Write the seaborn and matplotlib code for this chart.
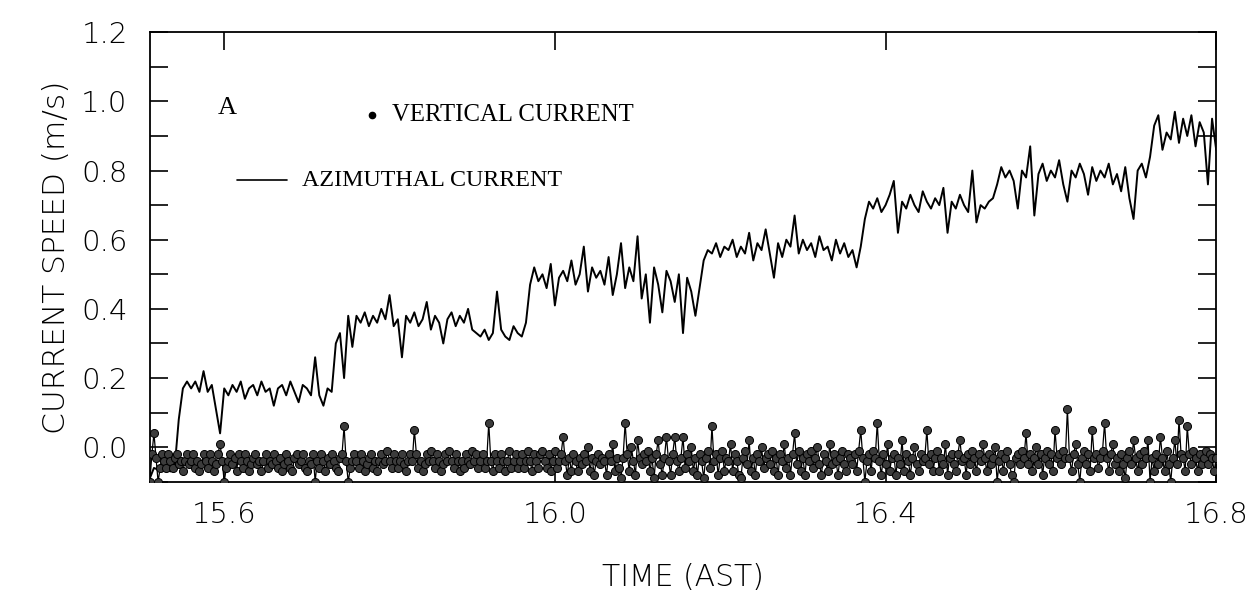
import numpy as np
import pandas as pd
import matplotlib
matplotlib.use("Agg")
import matplotlib.pyplot as plt
from matplotlib.ticker import MultipleLocator
import seaborn as sns

# Azimuthal current: one sample every 0.005 h from 15.51 h AST
az_start = 15.51
az_step = 0.005
azimuthal = [
    -0.09, -0.06, -0.065, -0.07, -0.065, -0.07, -0.06, 0.08, 0.17, 0.19,
    0.17, 0.19, 0.16, 0.22, 0.16, 0.18, 0.11, 0.04, 0.17, 0.15,
    0.18, 0.16, 0.19, 0.14, 0.17, 0.18, 0.15, 0.19, 0.16, 0.17,
    0.12, 0.17, 0.18, 0.15, 0.19, 0.16, 0.13, 0.18, 0.17, 0.15,
    0.26, 0.15, 0.12, 0.17, 0.16, 0.30, 0.33, 0.20, 0.38, 0.29,
    0.38, 0.36, 0.39, 0.35, 0.38, 0.36, 0.40, 0.37, 0.44, 0.35,
    0.37, 0.26, 0.38, 0.36, 0.39, 0.35, 0.37, 0.42, 0.34, 0.38,
    0.36, 0.30, 0.37, 0.39, 0.35, 0.38, 0.36, 0.40, 0.34, 0.33,
    0.32, 0.34, 0.31, 0.33, 0.45, 0.34, 0.32, 0.31, 0.35, 0.33,
    0.32, 0.36, 0.47, 0.52, 0.48, 0.50, 0.46, 0.53, 0.41, 0.49,
    0.51, 0.48, 0.54, 0.47, 0.50, 0.58, 0.45, 0.52, 0.49, 0.51,
    0.47, 0.55, 0.44, 0.50, 0.59, 0.46, 0.52, 0.48, 0.61, 0.43,
    0.50, 0.36, 0.52, 0.47, 0.39, 0.51, 0.48, 0.42, 0.50, 0.33,
    0.49, 0.45, 0.38, 0.46, 0.54, 0.57, 0.56, 0.59, 0.55, 0.58,
    0.57, 0.60, 0.55, 0.58, 0.56, 0.62, 0.54, 0.59, 0.57, 0.63,
    0.56, 0.49, 0.59, 0.55, 0.60, 0.58, 0.67, 0.56, 0.60, 0.57,
    0.59, 0.55, 0.61, 0.57, 0.58, 0.54, 0.60, 0.56, 0.59, 0.55,
    0.57, 0.52, 0.58, 0.66, 0.71, 0.69, 0.72, 0.68, 0.70, 0.73,
    0.77, 0.62, 0.71, 0.69, 0.73, 0.70, 0.68, 0.74, 0.71, 0.69,
    0.72, 0.70, 0.75, 0.62, 0.71, 0.69, 0.73, 0.70, 0.68, 0.80,
    0.65, 0.70, 0.69, 0.71, 0.72, 0.76, 0.81, 0.78, 0.80, 0.77,
    0.69, 0.80, 0.78, 0.87, 0.67, 0.79, 0.82, 0.77, 0.80, 0.78,
    0.83, 0.76, 0.71, 0.80, 0.78, 0.82, 0.79, 0.73, 0.81, 0.77,
    0.80, 0.78, 0.82, 0.76, 0.79, 0.74, 0.81, 0.72, 0.66, 0.80,
    0.82, 0.78, 0.84, 0.93, 0.96, 0.86, 0.91, 0.89, 0.97, 0.88,
    0.95, 0.90, 0.96, 0.87, 0.94, 0.91, 0.76, 0.95, 0.86,
]

# Vertical current: one sample every 0.0025 h from 15.51 h AST
vc_start = 15.51
vc_step = 0.0025
vertical = [
    -0.10, -0.02, 0.04, -0.03, -0.10, -0.06, -0.02, -0.04, -0.06, -0.02,
    -0.04, -0.06, -0.03, -0.02, -0.05, -0.04, -0.07, -0.04, -0.02, -0.05,
    -0.04, -0.02, -0.06, -0.04, -0.07, -0.05, -0.02, -0.04, -0.06, -0.02,
    -0.04, -0.07, -0.05, -0.02, 0.01, -0.04, -0.10, -0.06, -0.04, -0.02,
    -0.05, -0.03, -0.07, -0.02, -0.04, -0.06, -0.02, -0.04, -0.07, -0.05,
    -0.03, -0.02, -0.05, -0.04, -0.07, -0.04, -0.02, -0.06, -0.04, -0.05,
    -0.02, -0.04, -0.06, -0.03, -0.07, -0.05, -0.02, -0.04, -0.06, -0.07,
    -0.03, -0.02, -0.05, -0.04, -0.02, -0.06, -0.07, -0.04, -0.05, -0.02,
    -0.10, -0.04, -0.06, -0.02, -0.04, -0.07, -0.03, -0.05, -0.02, -0.04,
    -0.06, -0.07, -0.03, -0.02, 0.06, -0.04, -0.10, -0.06, -0.04, -0.02,
    -0.04, -0.06, -0.02, -0.04, -0.07, -0.05, -0.03, -0.02, -0.06, -0.04,
    -0.07, -0.04, -0.02, -0.05, -0.04, -0.01, -0.04, -0.06, -0.02, -0.04,
    -0.06, -0.04, -0.02, -0.05, -0.07, -0.04, -0.02, -0.04, 0.05, -0.02,
    -0.06, -0.04, -0.07, -0.05, -0.02, -0.04, -0.01, -0.04, -0.06, -0.02,
    -0.04, -0.07, -0.05, -0.02, -0.04, -0.01, -0.04, -0.06, -0.02, -0.04,
    -0.07, -0.04, -0.06, -0.02, -0.04, -0.05, -0.01, -0.04, -0.02, -0.06,
    -0.04, -0.02, -0.06, -0.04, 0.07, -0.04, -0.07, -0.02, -0.04, -0.06,
    -0.02, -0.04, -0.07, -0.04, -0.01, -0.06, -0.04, -0.02, -0.06, -0.04,
    -0.02, -0.06, -0.04, -0.01, -0.04, -0.07, -0.02, -0.04, -0.06, -0.02,
    -0.01, -0.04, -0.06, -0.02, -0.07, -0.04, -0.01, -0.06, -0.04, -0.02,
    0.03, -0.04, -0.08, -0.03, -0.07, -0.02, -0.04, -0.07, -0.03, -0.05,
    -0.02, -0.04, 0.00, -0.07, -0.03, -0.08, -0.04, -0.02, -0.05, -0.03,
    -0.04, -0.08, -0.02, -0.04, 0.01, -0.07, -0.03, -0.06, -0.09, -0.03,
    0.07, -0.02, -0.07, 0.00, -0.04, -0.08, 0.02, -0.03, -0.05, -0.02,
    -0.04, -0.01, -0.07, -0.03, -0.09, -0.02, 0.02, -0.05, -0.08, -0.03,
    0.03, -0.04, -0.08, -0.02, 0.03, -0.04, -0.07, -0.03, 0.03, -0.06,
    -0.02, -0.04, 0.00, -0.07, -0.03, -0.08, -0.02, -0.04, -0.09, -0.03,
    -0.01, -0.06, 0.06, -0.04, -0.02, -0.08, -0.03, -0.01, -0.07, -0.03,
    -0.04, 0.01, -0.07, -0.02, -0.04, -0.08, -0.09, -0.03, -0.01, -0.05,
    0.02, -0.07, -0.03, -0.08, -0.02, -0.04, 0.00, -0.06, -0.03, -0.02,
    -0.05, -0.01, -0.07, -0.03, -0.08, -0.02, -0.04, 0.01, -0.06, -0.03,
    -0.08, -0.02, 0.04, -0.05, -0.01, -0.07, -0.03, -0.08, -0.02, -0.04,
    -0.01, -0.06, -0.03, 0.00, -0.05, -0.08, -0.02, -0.04, -0.07, 0.01,
    -0.05, -0.02, -0.04, -0.08, -0.03, -0.01, -0.05, -0.07, -0.02, -0.03,
    -0.05, -0.02, -0.07, -0.01, 0.05, -0.03, -0.10, -0.04, -0.02, -0.07,
    -0.01, -0.03, 0.07, -0.04, -0.08, -0.02, -0.05, 0.01, -0.07, -0.03,
    -0.02, -0.08, -0.03, -0.05, 0.02, -0.07, -0.02, -0.04, -0.08, -0.03,
    0.00, -0.05, -0.07, -0.02, -0.04, -0.03, 0.05, -0.05, -0.02, -0.07,
    -0.03, -0.01, -0.07, -0.03, -0.05, 0.01, -0.08, -0.03, -0.02, -0.05,
    -0.07, -0.02, 0.02, -0.04, -0.03, -0.08, -0.02, -0.05, -0.01, -0.03,
    -0.07, -0.02, -0.04, 0.01, -0.03, -0.07, -0.02, -0.05, -0.03, 0.00,
    -0.10, -0.04, -0.02, -0.07, -0.03, -0.01, -0.05, -0.08, -0.10, -0.03,
    -0.02, -0.05, -0.01, -0.03, 0.04, -0.05, -0.02, -0.07, -0.03, 0.00,
    -0.05, -0.02, -0.08, -0.03, -0.01, -0.05, -0.02, -0.07, 0.05, -0.03,
    -0.02, -0.05, -0.01, -0.03, 0.11, -0.03, -0.07, -0.02, 0.01, -0.05,
    -0.10, -0.03, -0.01, -0.05, -0.02, -0.07, 0.05, -0.03, -0.02, -0.06,
    -0.03, -0.01, 0.07, -0.03, -0.07, -0.02, 0.01, -0.05, -0.03, -0.07,
    -0.02, -0.05, -0.09, -0.03, -0.01, -0.05, 0.02, -0.03, -0.07, -0.02,
    -0.05, -0.01, -0.03, 0.02, -0.10, -0.03, -0.07, -0.02, -0.05, 0.03,
    -0.03, -0.07, -0.01, -0.05, -0.10, -0.03, 0.02, -0.05, 0.08, -0.02,
    -0.03, -0.07, 0.06, -0.02, -0.05, -0.01, -0.03, -0.07, -0.02, -0.05,
    -0.03, -0.01, -0.05, -0.02, -0.03, -0.07, -0.03,
]

x_ticks = [15.6, 16.0, 16.4, 16.8]
x_tick_labels = ["15.6", "16.0", "16.4", "16.8"]
y_ticks = [0.0, 0.2, 0.4, 0.6, 0.8, 1.0, 1.2]
y_tick_labels = ["0.0", "0.2", "0.4", "0.6", "0.8", "1.0", "1.2"]

az_df = pd.DataFrame({
    "time": az_start + az_step * np.arange(len(azimuthal)),
    "speed": azimuthal,
})
vc_df = pd.DataFrame({
    "time": vc_start + vc_step * np.arange(len(vertical)),
    "speed": vertical,
})

sns.set_theme(style="ticks")
plt.rcParams["font.family"] = ["DejaVu Sans"]
plt.rcParams["text.color"] = "black"
plt.rcParams["axes.labelcolor"] = "black"
plt.rcParams["xtick.color"] = "black"
plt.rcParams["ytick.color"] = "black"

fig = plt.figure(figsize=(12.59, 5.97), dpi=100)
ax = fig.add_axes([0.119, 0.193, 0.847, 0.753])

sns.lineplot(data=az_df, x="time", y="speed", ax=ax, color="black",
             linewidth=1.4, zorder=2)
sns.lineplot(data=vc_df, x="time", y="speed", ax=ax, color="black",
             linewidth=0.9, marker="o", markersize=5.8,
             markerfacecolor="#3c3c3c", markeredgecolor="black",
             markeredgewidth=0.7, zorder=3)

ax.set_xlim(15.51, 16.8)
ax.set_ylim(-0.1, 1.2)
ax.set_xticks(x_ticks)
ax.set_xticklabels(x_tick_labels)
ax.set_yticks(y_ticks)
ax.set_yticklabels(y_tick_labels)
ax.yaxis.set_minor_locator(MultipleLocator(0.1))

ax.tick_params(axis="both", which="both", direction="in", length=13,
               width=1.2, color="black", top=True, right=True)
ax.tick_params(axis="y", which="major", labelsize=21, pad=16)
ax.tick_params(axis="x", which="major", labelsize=21, pad=14)
for lab in ax.get_xticklabels() + ax.get_yticklabels():
    lab.set_fontweight("light")

for sp in ax.spines.values():
    sp.set_linewidth(1.3)
    sp.set_color("black")

ax.set_xlabel("TIME (AST)", fontsize=21.5, fontweight="light", labelpad=24)
ax.set_ylabel("CURRENT SPEED (m/s)", fontsize=22.5, fontweight="light",
              labelpad=7)

# Panel letter and key
serif = ["Liberation Serif", "DejaVu Serif"]
ax.text(0.064, 0.832, "A", transform=ax.transAxes, fontsize=19,
        family=serif, va="center", ha="left")
ax.plot([0.208], [0.815], marker="o", markersize=4.5, color="black",
        transform=ax.transAxes, clip_on=False)
ax.text(0.227, 0.815, "VERTICAL CURRENT", transform=ax.transAxes,
        fontsize=17.8, family=serif, va="center", ha="left")
ax.plot([0.082, 0.129], [0.672, 0.672], color="black", linewidth=1.2,
        transform=ax.transAxes)
ax.text(0.143, 0.67, "AZIMUTHAL CURRENT", transform=ax.transAxes,
        fontsize=17.3, family=serif, va="center", ha="left")

fig.savefig("out.png", dpi=100, facecolor="white")
